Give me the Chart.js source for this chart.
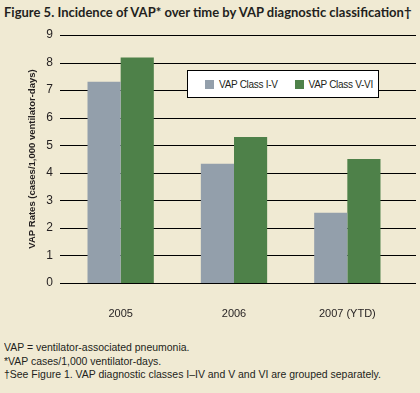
<!DOCTYPE html>
<html>
<head>
<meta charset="utf-8">
<script src="https://cdn.jsdelivr.net/npm/chart.js@4"></script>
<style>
  html, body { margin: 0; padding: 0; }
  body { width: 420px; height: 393px; background: #f0ead3; position: relative; overflow: hidden; color: #231f20; }
  #title { position: absolute; left: 4px; top: 4px; font: bold 13px Lato, sans-serif; white-space: nowrap; }
  #wrap { position: absolute; left: 0; top: 0; width: 420px; height: 330px; }
  #legend { position: absolute; left: 187px; top: 70px; width: 190px; height: 26px; background: #fff; border: 1px solid #000;
            font: 10px "Liberation Sans", Arial, sans-serif; display: flex; align-items: center; white-space: nowrap; }
  #legend span.item { display: flex; align-items: center; margin-left: 17px; letter-spacing: -0.3px; }
  #legend span.item + span.item { margin-left: 17px; }
  #legend i { display: inline-block; width: 9px; height: 9px; margin-right: 5px; }
  #notes { position: absolute; left: 4px; top: 341px; font: 11.5px/13.5px "Liberation Sans", Arial, sans-serif; white-space: nowrap;
           transform: scaleX(0.91); transform-origin: left top; }
</style>
</head>
<body>
<div id="title">Figure 5. Incidence of VAP* over time by VAP diagnostic classification†</div>
<div id="wrap"><canvas id="chart"></canvas></div>
<div id="legend"></div>
<div id="notes">
  VAP = ventilator-associated pneumonia.<br>
  *VAP cases/1,000 ventilator-days.<br>
  †See Figure 1. VAP diagnostic classes I–IV and V and VI are grouped separately.
</div>
<script>
const years = ['2005', '2006', '2007 (YTD)'];
const seriesNames = ['VAP Class I-V', 'VAP Class V-VI'];
const classIV = [7.3, 4.33, 2.55];
const classVVI = [8.18, 5.3, 4.5];
const colors = ['#939fab', '#4e8149'];

const byId = (id) => document.getElementById(id);
const font = { family: '"Liberation Sans", Arial, sans-serif', size: 11 };

// gridlines run wider than the bar area
const wideGrid = {
  id: 'wideGrid',
  beforeDatasetsDraw(chart) {
    const y = chart.scales.y;
    const ctx = chart.ctx;
    ctx.save();
    ctx.strokeStyle = '#000';
    ctx.lineWidth = 1;
    y.ticks.forEach(t => {
      const py = Math.round(y.getPixelForValue(t.value)) + 0.5;
      ctx.beginPath();
      ctx.moveTo(60, py);
      ctx.lineTo(416, py);
      ctx.stroke();
    });
    ctx.restore();
  }
};

const chart = new Chart(byId('chart'), {
  type: 'bar',
  data: {
    labels: years,
    datasets: [
      { label: seriesNames[0], data: classIV, backgroundColor: colors[0] },
      { label: seriesNames[1], data: classVVI, backgroundColor: colors[1] }
    ]
  },
  options: {
    responsive: true,
    maintainAspectRatio: false,
    animation: false,
    layout: { padding: { top: 35, right: 16, left: 0, bottom: 0 } },
    datasets: { bar: { categoryPercentage: 0.585, barPercentage: 1 } },
    plugins: { legend: { display: false }, tooltip: { enabled: false } },
    scales: {
      x: {
        grid: { display: false, drawTicks: false },
        border: { display: false },
        ticks: { color: '#231f20', font, padding: 24 },
        afterFit: (s) => { s.height = 47; }
      },
      y: {
        min: 0, max: 9,
        grid: { display: false, drawTicks: false },
        border: { display: false },
        ticks: { stepSize: 1, color: '#231f20', font: { family: font.family, size: 12 }, padding: 11 },
        title: {
          display: true,
          text: 'VAP Rates (cases/1,000 ventilator-days)',
          color: '#231f20',
          font: { family: font.family, size: 9.5, weight: 'bold' },
          padding: { top: 27, bottom: 0 }
        },
        afterFit: (s) => { s.width = 64; }
      }
    }
  },
  plugins: [wideGrid]
});

byId('legend').innerHTML = seriesNames.map((n, i) =>
  `<span class="item"><i style="background:${colors[i]}"></i>${n}</span>`).join('');
</script>
</body>
</html>
